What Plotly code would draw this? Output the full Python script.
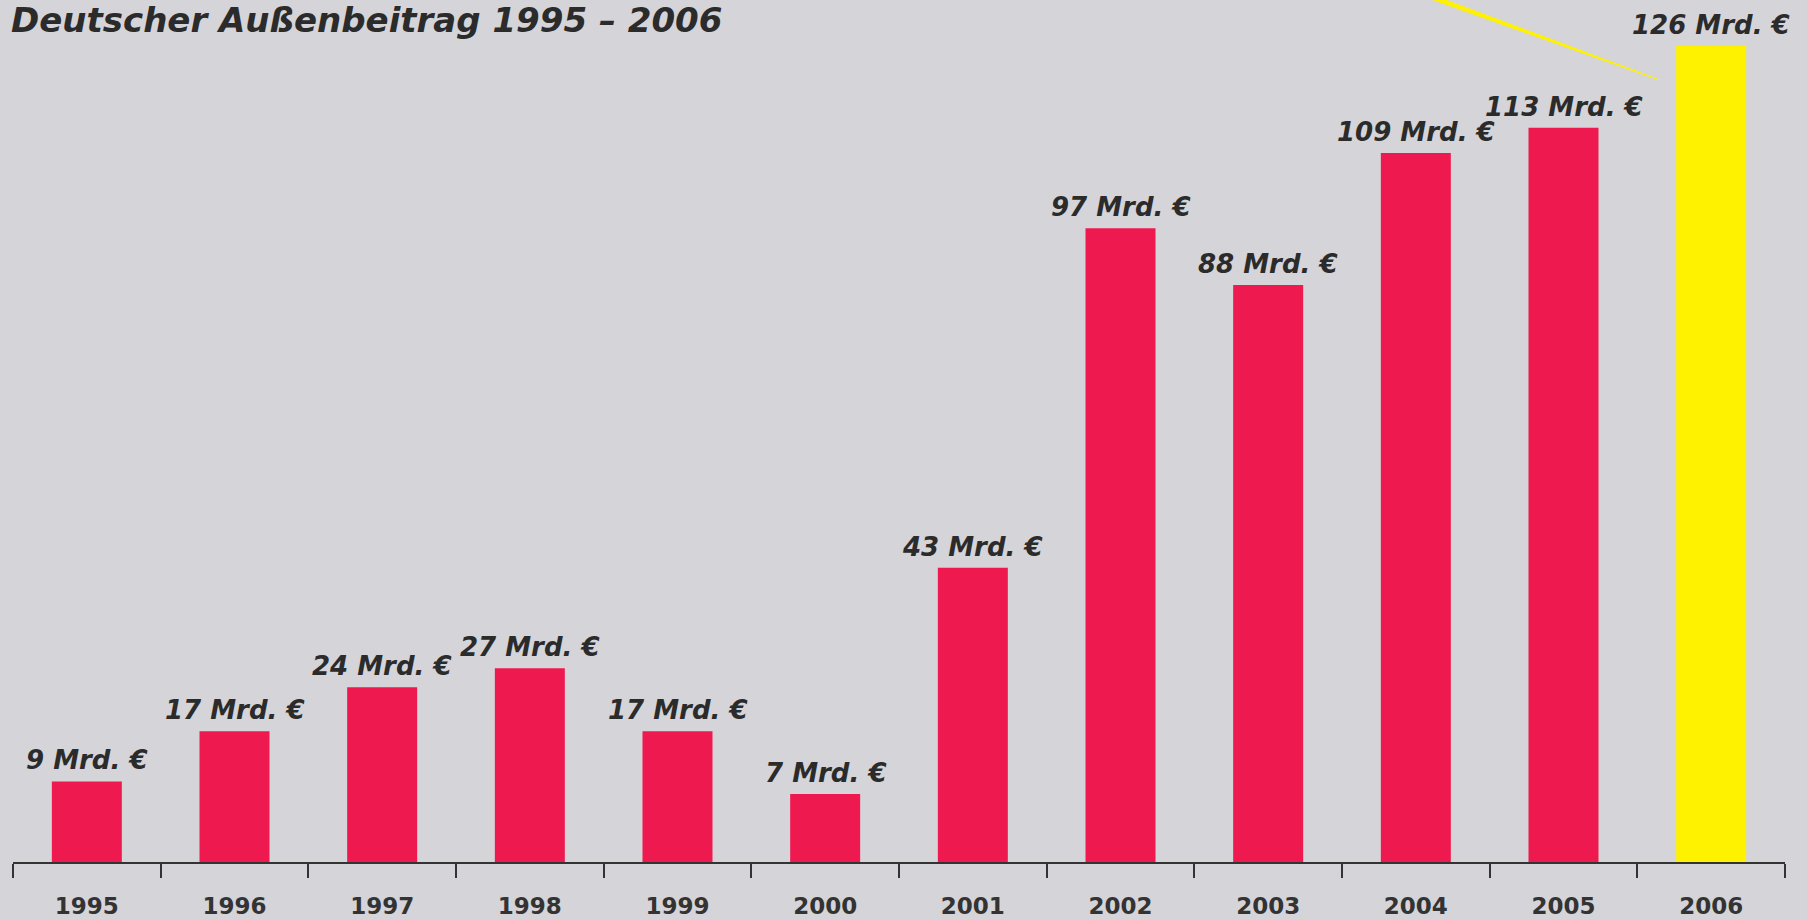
import plotly.graph_objects as go

# ---- data ----
years = ["1995", "1996", "1997", "1998", "1999", "2000",
         "2001", "2002", "2003", "2004", "2005", "2006"]
values = [9, 17, 24, 27, 17, 7, 43, 97, 88, 109, 113, 126]
labels = [f"{v} Mrd. €" for v in values]
bar_colors = ["#ee1a4f"] * 11 + ["#fff200"]
title_text = "Deutscher Außenbeitrag 1995 – 2006"

# ---- layout geometry ----
W, H = 1807, 920
ML, MR, MT, MB = 13, 22, 0, 58
PW, PH = W - ML - MR, H - MT - MB
BASE = -3.82            # bars start slightly below the value scale's zero
Y_TOP = BASE + PH / 6.285

def px_x(px):
    return (px - ML) / PW

def px_y(py):
    return (H - MB - py) / PH

BG = "#d5d4d8"
TXT = "#2b2b2b"

fig = go.Figure()
fig.add_trace(go.Bar(
    x=years,
    y=[v - BASE for v in values],
    base=BASE,
    marker=dict(color=bar_colors, line=dict(width=0)),
    width=0.474,
    hoverinfo="skip",
))

annotations = []
for i, (v, lab) in enumerate(zip(values, labels)):
    annotations.append(dict(
        x=i, y=v, xref="x", yref="y", text=lab, showarrow=False,
        xanchor="center", yanchor="bottom", yshift=4,
        font=dict(family="DejaVu Sans", size=26, color=TXT,
                  weight="bold", style="italic"),
    ))

annotations.append(dict(
    x=px_x(9), y=px_y(0), xref="paper", yref="paper", text=title_text,
    showarrow=False, xanchor="left", yanchor="top", yshift=2,
    font=dict(family="DejaVu Sans", size=34, color=TXT,
              weight="bold", style="italic"),
))

# yellow callout line (tapered)
pts = [(1421, -4), (1436, -4), (1661, 80), (1658, 80)]
path = "M " + " L ".join(f"{px_x(a):.5f},{px_y(b):.5f}" for a, b in pts) + " Z"

fig.update_layout(
    width=W, height=H,
    margin=dict(l=ML, r=MR, t=MT, b=MB),
    paper_bgcolor=BG, plot_bgcolor=BG,
    showlegend=False,
    bargap=0.526,
    annotations=annotations,
    shapes=[dict(type="path", path=path, xref="paper", yref="paper",
                 fillcolor="#fff200", line=dict(width=0), layer="above")],
    xaxis=dict(
        type="category", range=[-0.5, 11.5],
        showline=True, linecolor="#333333", linewidth=2,
        ticks="outside", tickson="boundaries", ticklen=14,
        tickwidth=2, tickcolor="#333333",
        showgrid=False, zeroline=False,
        tickfont=dict(family="DejaVu Sans", size=23, color="#333333",
                      weight="bold"),
        ticklabelstandoff=22,
    ),
    yaxis=dict(range=[BASE, Y_TOP], visible=False, showgrid=False,
               zeroline=False),
)

fig.write_html(
    "out.html",
    config={"displayModeBar": False},
    post_script="document.body.style.margin='0';"
                "document.body.style.overflow='hidden';",
)
